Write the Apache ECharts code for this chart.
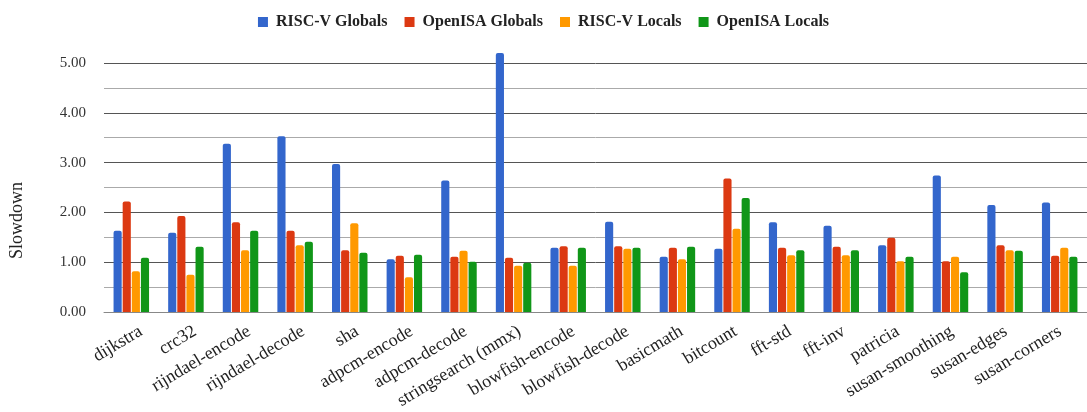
<!DOCTYPE html>
<html>
<head>
<meta charset="utf-8">
<script src="https://cdn.jsdelivr.net/npm/echarts@6/dist/echarts.min.js"></script>
<style>
html,body{margin:0;padding:0;background:#fff;}
#slowChart{width:1087px;height:412px;}
</style>
</head>
<body>
<div id="slowChart"></div>
<script>
var benchmarks=["dijkstra","crc32","rijndael-encode","rijndael-decode","sha","adpcm-encode","adpcm-decode","stringsearch (mmx)","blowfish-encode","blowfish-decode","basicmath","bitcount","fft-std","fft-inv","patricia","susan-smoothing","susan-edges","susan-corners"];
var riscvGlobals=[1.63,1.59,3.38,3.53,2.97,1.06,2.64,5.20,1.29,1.81,1.11,1.27,1.80,1.73,1.34,2.74,2.15,2.20];
var openisaGlobals=[2.22,1.93,1.80,1.63,1.24,1.13,1.11,1.09,1.32,1.32,1.29,2.68,1.29,1.31,1.49,1.02,1.34,1.13];
var riscvLocals=[0.82,0.75,1.24,1.34,1.78,0.70,1.23,0.93,0.93,1.27,1.06,1.67,1.14,1.14,1.02,1.11,1.24,1.29];
var openisaLocals=[1.09,1.31,1.63,1.41,1.19,1.15,1.01,0.99,1.29,1.29,1.31,2.29,1.24,1.24,1.11,0.80,1.23,1.11];
var seriesNames=["RISC-V Globals","OpenISA Globals","RISC-V Locals","OpenISA Locals"];
var yTicks=[0,1,2,3,4,5];

var serif="'Liberation Serif','DejaVu Serif',serif";
var chart=echarts.init(document.getElementById("slowChart"));

function barSeries(name,data,color){
	return {
		name:name,
		type:"bar",
		data:data,
		clip:false,
		barGap:"12%",
		barCategoryGap:"35%",
		itemStyle:{color:color,borderRadius:[2,2,0,0]}
	};
}

var option={
	animation:false,
	backgroundColor:"#fff",
	legend:{
		top:9,
		left:"center",
		itemWidth:10,
		itemHeight:10,
		itemGap:17,
		icon:"rect",
		data:seriesNames,
		textStyle:{fontFamily:serif,fontWeight:"bold",fontSize:16,color:"#222",padding:[0,0,0,3]}
	},
	//第二个grid只用来放x轴标签,向右错开一点
	grid:[
		{left:104,right:0,top:63,bottom:100},
		{left:114,right:-10,top:63,bottom:100}
	],
	xAxis:[{
		type:"category",
		gridIndex:0,
		data:benchmarks,
		axisLine:{lineStyle:{color:"#888"}},
		axisTick:{show:false},
		axisLabel:{show:false}
	},{
		type:"category",
		gridIndex:1,
		data:benchmarks,
		axisLine:{show:false},
		axisTick:{show:false},
		axisLabel:{interval:0,rotate:31,fontFamily:serif,fontSize:18,color:"#222",margin:18}
	}],
	yAxis:[{
		type:"value",
		gridIndex:0,
		min:yTicks[0],
		max:yTicks[yTicks.length-1],
		interval:1,
		axisLine:{show:false},
		axisTick:{show:false},
		axisLabel:{fontFamily:serif,fontSize:15,color:"#333",margin:18,formatter:function(v){return v.toFixed(2);}},
		splitLine:{lineStyle:{color:"#555",width:1}},
		minorTick:{show:false,splitNumber:2},
		minorSplitLine:{show:true,lineStyle:{color:"#aaa",width:1}}
	},{
		type:"value",
		gridIndex:1,
		show:false
	}],
	graphic:[{
		type:"text",
		x:8,
		y:259,
		rotation:Math.PI/2,
		style:{text:"Slowdown",fontFamily:serif,fontSize:18,fill:"#222"}
	}],
	series:[
		barSeries(seriesNames[0],riscvGlobals,"#3366cc"),
		barSeries(seriesNames[1],openisaGlobals,"#dc3912"),
		barSeries(seriesNames[2],riscvLocals,"#ff9900"),
		barSeries(seriesNames[3],openisaLocals,"#109618")
	]
};
chart.setOption(option);
</script>
</body>
</html>
